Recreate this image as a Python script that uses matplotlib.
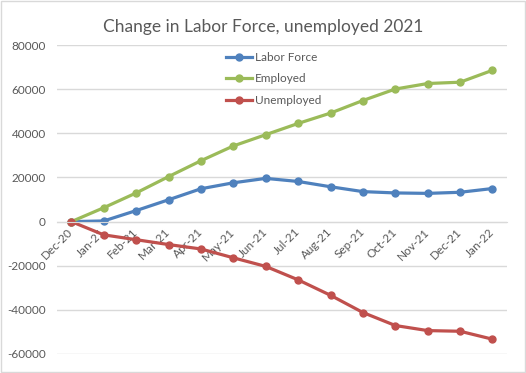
import numpy as np
import matplotlib.pyplot as plt
from matplotlib.patches import Rectangle

plt.rcParams['font.family'] = ['Lato', 'DejaVu Sans']
plt.rcParams['axes.unicode_minus'] = False

# Months and series values (change since Dec-20)
months = ['Dec-20', 'Jan-21', 'Feb-21', 'Mar-21', 'Apr-21', 'May-21', 'Jun-21',
          'Jul-21', 'Aug-21', 'Sep-21', 'Oct-21', 'Nov-21', 'Dec-21', 'Jan-22']
labor_force = [0, 300, 5000, 9900, 14900, 17600, 19600, 18200, 15800, 13600, 13000, 12800, 13300, 15000]
employed = [0, 6300, 13000, 20400, 27600, 34300, 39400, 44500, 49200, 54900, 60100, 62600, 63200, 68600]
unemployed = [0, -6000, -8200, -10400, -12400, -16400, -20300, -26400, -33400, -41200, -47100, -49400, -49700, -53300]

fig = plt.figure(figsize=(5.26, 3.73), dpi=100)
ax = fig.add_axes([0.108, 0.051, 0.856, 0.828])

x = np.arange(len(months))
ax.plot(x, labor_force, color='#4F81BD', lw=2.3, marker='o', ms=5, label='Labor Force')
ax.plot(x, employed, color='#9BBB59', lw=2.3, marker='o', ms=5, label='Employed')
ax.plot(x, unemployed, color='#C0504D', lw=2.3, marker='o', ms=5, label='Unemployed')

ax.set_xlim(-0.45, len(months) - 0.55)
ax.set_ylim(-60000, 80000)
ax.set_yticks(np.arange(-60000, 80001, 20000))
ax.tick_params(axis='y', length=0, labelsize=8.5, labelcolor='#595959', pad=8)
ax.grid(axis='y', color='#d9d9d9', lw=1)
ax.set_axisbelow(True)

for s in ['top', 'right', 'left']:
    ax.spines[s].set_visible(False)
ax.spines['bottom'].set_position(('data', 0))
ax.spines['bottom'].set_color('#d9d9d9')

ax.set_xticks(x)
ax.set_xticklabels(months, rotation=45, ha='right', va='center', rotation_mode='anchor')
ax.tick_params(axis='x', length=0, labelsize=8.5, labelcolor='#595959', pad=6)

fig.text(0.5, 0.928, 'Change in Labor Force, unemployed 2021', ha='center', va='center',
         fontsize=12.5, color='#595959')

ax.legend(loc='upper left', bbox_to_anchor=(0.41, 0.89), bbox_transform=fig.transFigure,
          frameon=False, fontsize=8.5, labelcolor='#595959', handlelength=2.2,
          handletextpad=0.2, labelspacing=0.9)

fig.patches.append(Rectangle((0.002, 0.003), 0.996, 0.994, transform=fig.transFigure,
                             fill=False, edgecolor='#d9d9d9', lw=1))

fig.savefig('out.png', dpi=100)
